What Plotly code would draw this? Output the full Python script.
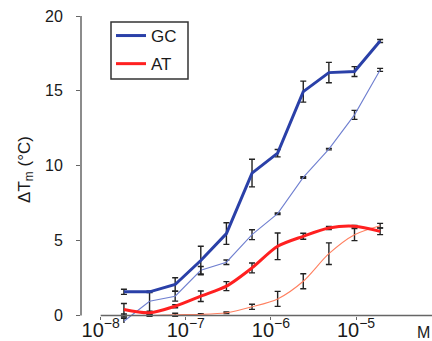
import plotly.graph_objects as go

# concentrations (M)
conc = [1.875e-8, 3.75e-8, 7.5e-8, 1.5e-7, 3e-7, 6e-7, 1.2e-6, 2.4e-6, 4.8e-6, 9.6e-6, 1.92e-5]

gc_high = [1.58, 1.58, 2.07, 3.67, 5.47, 9.51, 10.84, 14.95, 16.22, 16.29, 18.33]
gc_high_err = [0.17, 0.05, 0.45, 0.95, 0.72, 0.92, 0.25, 0.70, 0.68, 0.33, 0.10]

gc_low = [-0.38, 0.95, 1.29, 3.02, 3.56, 5.40, 6.80, 9.22, 11.11, 13.40, 16.40]
gc_low_err_plus = [0.20, 0.65, 0.33, 0.25, 0.15, 0.33, 0.05, 0.05, 0.05, 0.30, 0.10]
gc_low_err_minus = [0.20, 0.95, 0.33, 0.25, 0.15, 0.33, 0.05, 0.05, 0.05, 0.30, 0.10]

at_high = [0.40, 0.18, 0.62, 1.29, 1.96, 3.18, 4.62, 5.29, 5.84, 5.96, 5.62]
at_high_err = [0.40, 0.10, 0.10, 0.35, 0.30, 0.33, 0.89, 0.20, 0.10, 0.05, 0.22]

at_low = [0.0, 0.0, 0.05, 0.07, 0.18, 0.58, 1.11, 2.29, 4.13, 5.40, 6.00]
at_low_err = [0.10, 0.05, 0.10, 0.05, 0.05, 0.17, 0.50, 0.50, 0.72, 0.40, 0.15]

y_ticks = [0, 5, 10, 15, 20]

FONT = "Liberation Sans, Arial, sans-serif"
ERR = dict(type="data", color="#222222", thickness=1.4, width=3)

fig = go.Figure()

fig.add_trace(go.Scatter(
    x=conc, y=gc_low, mode="lines", showlegend=False,
    line=dict(color="#6f7fd0", width=1.1),
    error_y=dict(array=gc_low_err_plus, arrayminus=gc_low_err_minus, symmetric=False, **ERR)))
fig.add_trace(go.Scatter(
    x=conc, y=at_low, mode="lines", showlegend=False,
    line=dict(color="#ff8060", width=1.1, shape="spline", smoothing=0.8),
    error_y=dict(array=at_low_err, **ERR)))
fig.add_trace(go.Scatter(
    x=conc, y=gc_high, mode="lines", name="GC", legendgroup="gc",
    line=dict(color="#2a40a8", width=3),
    error_y=dict(array=gc_high_err, **ERR)))
fig.add_trace(go.Scatter(
    x=conc, y=at_high, mode="lines", name="AT", legendgroup="at",
    line=dict(color="#ff2020", width=3, shape="spline", smoothing=0.8),
    error_y=dict(array=at_high_err, **ERR)))

W, H = 432, 341
ml, mt = 81, 16
y0px, px_per_unit = 316, 15.0
ybot = -0.5
plot_bottom = y0px + (-ybot) * px_per_unit
mb = H - plot_bottom
plot_h = plot_bottom - mt
plot_w = W - ml


def px_x(p):
    return (p - ml) / plot_w


def px_y(p):
    return (plot_bottom - p) / plot_h


fig.update_layout(
    width=W, height=H,
    margin=dict(l=ml, r=0, t=mt, b=mb, pad=0),
    paper_bgcolor="white", plot_bgcolor="white",
    font=dict(family=FONT, size=16, color="#1a1a1a"),
    legend=dict(
        x=px_x(111), y=px_y(18), xanchor="left", yanchor="top",
        borderwidth=0, bgcolor="rgba(0,0,0,0)",
        font=dict(size=17), tracegroupgap=3, traceorder="grouped",
    ),
    showlegend=True,
)

fig.update_xaxes(
    type="log", range=[-8.2315, -4.107],
    tickmode="linear", tick0=0, dtick=1, exponentformat="power",
    ticks="outside", ticklen=3, tickcolor="#666666", tickwidth=1.3,
    showline=False, showgrid=False, zeroline=False,
    anchor="free", position=(plot_bottom - y0px) / plot_h,
    tickfont=dict(size=16), ticklabelstandoff=-6, automargin=False,
)
fig.update_yaxes(
    range=[ybot, 20], tickvals=y_ticks,
    ticks="outside", ticklen=4, tickcolor="#666666", tickwidth=1.3,
    showline=False, showgrid=False, zeroline=False,
    tickfont=dict(size=16), ticklabelstandoff=10, automargin=False,
    title=dict(text="ΔT<sub>m</sub> (°C)", font=dict(size=17), standoff=10),
)

# axis lines
fig.add_shape(type="line", xref="paper", yref="y", x0=0, x1=0, y0=0, y1=20,
              line=dict(color="#666666", width=1.5))
fig.add_shape(type="line", xref="paper", yref="y", x0=px_x(100.7), x1=1, y0=0, y1=0,
              line=dict(color="#666666", width=1.5))
# legend frame
fig.add_shape(type="rect", xref="paper", yref="paper",
              x0=px_x(111), x1=px_x(188), y0=px_y(79), y1=px_y(22),
              line=dict(color="#333333", width=1.5), layer="above")

fig.add_annotation(text="M", xref="paper", yref="paper",
                   x=1, y=px_y(333),
                   xanchor="right", yanchor="middle", showarrow=False, font=dict(size=16))

fig.write_html("out.html")
